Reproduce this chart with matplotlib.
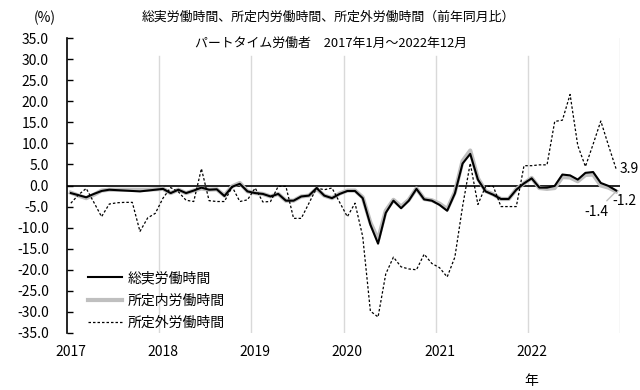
import matplotlib
matplotlib.use("Agg")
import matplotlib.pyplot as plt
import numpy as np

plt.rcParams['font.family'] = ['Noto Sans CJK JP', 'DejaVu Sans']

# monthly values, 2017-01 .. 2022-12 (%, year-on-year)
years = ['2017', '2018', '2019', '2020', '2021', '2022']

total_hours = [
    -1.8, -2.3, -2.8, -2.0, -1.3, -1.0, -1.1, -1.2, -1.3, -1.4, -1.2, -1.0,
    -0.8, -1.8, -1.0, -1.8, -1.2, -0.5, -1.0, -0.9, -2.5, -0.3, 0.4, -1.4,
    -1.8, -2.0, -2.6, -2.0, -3.6, -3.6, -2.6, -2.4, -0.6, -2.4, -3.0, -2.0,
    -1.3, -1.3, -3.0, -9.3, -13.8, -6.5, -3.6, -5.4, -3.6, -0.8, -3.3, -3.6,
    -4.6, -6.0, -1.9, 5.2, 7.5, 1.4, -1.4, -2.2, -3.2, -3.2, -1.0, 0.5,
    1.7, -0.5, -0.5, -0.1, 2.6, 2.4, 1.4, 3.0, 3.2, 0.6, -0.1, -1.2,
]
scheduled_hours = [
    -1.7, -2.4, -3.0, -2.2, -1.2, -1.0, -1.0, -1.0, -1.0, -1.0, -1.0, -0.9,
    -0.8, -1.8, -1.0, -1.8, -1.2, -0.7, -1.0, -0.9, -2.4, -0.2, 0.6, -1.4,
    -1.8, -2.0, -2.6, -2.0, -3.6, -3.6, -2.6, -2.4, -0.8, -2.4, -3.0, -1.9,
    -1.2, -1.2, -2.8, -8.8, -12.8, -6.0, -3.4, -5.0, -3.4, -0.7, -3.2, -3.5,
    -4.3, -5.6, -1.6, 5.8, 8.3, 1.7, -1.3, -2.1, -3.2, -3.2, -0.9, 0.5,
    1.8, -0.6, -0.8, -0.6, 2.0, 1.9, 1.0, 2.5, 2.6, 0.0, -0.5, -1.4,
]
overtime_hours = [
    -4.2, -2.2, -0.7, -4.0, -7.4, -4.4, -4.1, -4.0, -4.0, -10.9, -7.7, -6.6,
    -3.0, -0.5, -1.5, -3.5, -3.8, 4.0, -3.6, -3.8, -3.8, -0.3, -3.8, -3.4,
    -0.6, -3.9, -3.8, -0.2, -0.2, -7.8, -7.8, -4.2, -0.6, -1.0, -0.6, -4.0,
    -7.4, -4.2, -12.1, -29.8, -31.2, -21.0, -17.0, -19.3, -19.8, -20.0, -16.3, -18.5,
    -19.5, -21.7, -17.0, -5.0, 5.3, -4.5, -0.2, -0.2, -5.0, -5.0, -5.0, 4.7,
    4.7, 4.9, 4.9, 15.2, 15.5, 21.6, 9.5, 4.5, 9.8, 15.3, 9.5, 3.9,
]

labels = ['総実労働時間', '所定内労働時間', '所定外労働時間']

months = np.arange(len(total_hours))

fig = plt.figure(figsize=(6.4, 3.9), dpi=100)
ax = fig.add_axes([67 / 640, 1 - 333 / 390, 553 / 640, 295 / 390])

ax.set_xlim(-0.5, len(months) - 0.5)
ax.set_ylim(-35, 35)

# year separators
for k in range(1, len(years) + 1):
    top = 1.0 if k == len(years) else 0.94
    ax.axvline(12 * k - 0.5, ymin=0, ymax=top, color='#d9d9d9', lw=1.0, zorder=1)

ax.axhline(0, color='black', lw=1.2, zorder=2)

l_sched, = ax.plot(months, scheduled_hours, color='#bfbfbf', lw=3.0,
                   solid_joinstyle='round', zorder=3)
l_total, = ax.plot(months, total_hours, color='black', lw=1.5, zorder=4)
l_over, = ax.plot(months, overtime_hours, color='black', lw=0.9,
                  dashes=(2.0, 1.6), zorder=5)

for s in ['top', 'right', 'bottom']:
    ax.spines[s].set_visible(False)
ax.spines['left'].set_linewidth(1.2)

ax.set_yticks(np.arange(-35, 36, 5))
ax.set_yticklabels([f'{v:.1f}' for v in np.arange(-35, 36, 5)])
ax.tick_params(axis='y', direction='in', length=4.5, width=1.0, pad=13, labelsize=10)

ax.set_xticks(months[::12])
ax.set_xticklabels(years)
ax.tick_params(axis='x', length=0, pad=9, labelsize=10)

ax.text(months[60], -46.5, '年', ha='center', va='center', fontsize=10)

# end value labels
ax.annotate(f'{overtime_hours[-1]:.1f}', (months[-1], overtime_hours[-1]),
            xytext=(2.5, 0), textcoords='offset points', ha='left', va='center',
            fontsize=10)
ax.annotate(f'{total_hours[-1]:.1f}', (months[-1], total_hours[-1]),
            xytext=(-2.5, -7.5), textcoords='offset points', ha='left', va='center',
            fontsize=10)
ax.annotate(f'{scheduled_hours[-1]:.1f}', (months[-1], scheduled_hours[-1]),
            xytext=(-14.5, -14.5), textcoords='offset points', ha='center', va='center',
            fontsize=10,
            arrowprops=dict(arrowstyle='-', color='#bfbfbf', lw=1.0, shrinkA=1, shrinkB=1))

fig.text(328 / 640, 1 - 17 / 390, '総実労働時間、所定内労働時間、所定外労働時間（前年同月比）',
         ha='center', va='center', fontsize=9.3)
fig.text(331 / 640, 1 - 43 / 390, 'パートタイム労働者　2017年1月～2022年12月',
         ha='center', va='center', fontsize=9.3,
         bbox=dict(facecolor='white', edgecolor='none', pad=1))
fig.text(45 / 640, 1 - 18 / 390, '(%)', ha='center', va='center', fontsize=10)

ax.legend([l_total, l_sched, l_over], labels, loc='upper left',
          bbox_to_anchor=(88 / 640, 1 - 271 / 390), bbox_transform=fig.transFigure,
          frameon=False, fontsize=10, handlelength=2.45, handletextpad=0.4,
          labelspacing=0.62, borderpad=0, borderaxespad=0)

fig.savefig('out.png', dpi=100)
